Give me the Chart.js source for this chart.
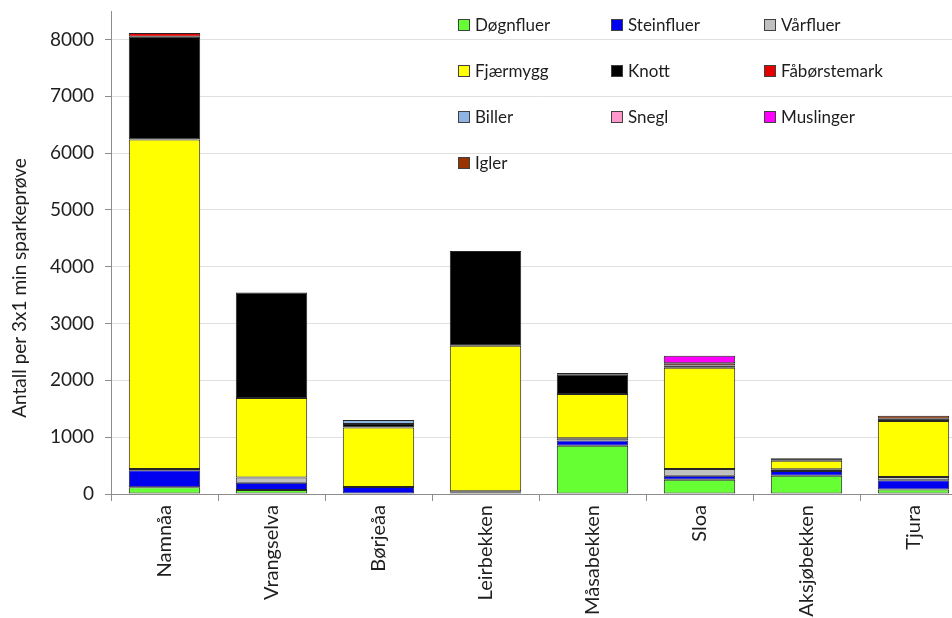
<!DOCTYPE html>
<html>
<head>
<meta charset="utf-8">
<script src="https://cdn.jsdelivr.net/npm/chart.js@4.4.1/dist/chart.umd.min.js"></script>
<style>
  html, body { margin: 0; padding: 0; background: #fff; overflow: hidden; }
  #wrap { width: 952px; height: 618px; overflow: hidden; }
</style>
</head>
<body>
<div id="wrap"><canvas id="chart" width="975" height="618"></canvas></div>
<script>
// stations
const sites = ['Namnåa', 'Vrangselva', 'Børjeåa', 'Leirbekken', 'Måsabekken', 'Sloa', 'Aksjøbekken', 'Tjura'];

// counts per 3x1 min kick sample, one array per group
const dognfluer    = [120, 70, 10, 20, 850, 250, 320, 80];
const steinfluer   = [300, 130, 115, 30, 90, 70, 85, 160];
const varfluer     = [20, 90, 0, 0, 40, 120, 30, 60];
const fjaermygg    = [5800, 1400, 1046, 2560, 780, 1780, 150, 985];
const knott        = [1805, 1856, 60, 1666, 340, 40, 45, 40];
const faborstemark = [70, 0, 0, 0, 0, 40, 0, 0];
const biller       = [0, 0, 71, 0, 30, 0, 0, 0];
const snegl        = [0, 0, 0, 0, 0, 0, 0, 0];
const muslinger    = [0, 0, 0, 0, 0, 135, 0, 0];
const igler        = [0, 0, 0, 0, 0, 0, 0, 50];

const groupNames = ['Døgnfluer', 'Steinfluer', 'Vårfluer', 'Fjærmygg', 'Knott', 'Fåbørstemark', 'Biller', 'Snegl', 'Muslinger', 'Igler'];
const groupValues = [dognfluer, steinfluer, varfluer, fjaermygg, knott, faborstemark, biller, snegl, muslinger, igler];

const yTicks = [0, 1000, 2000, 3000, 4000, 5000, 6000, 7000, 8000];
const yTitle = 'Antall per 3x1 min sparkeprøve';

const colors = ['#66ff33', '#0000f0', '#c0c0c0', '#ffff00', '#000000', '#e60000', '#8db4e2', '#ff99cc', '#ff00ff', '#993300'];
const FONT = 'Lato, "Open Sans", sans-serif';
const TEXT = '#1e1e1e';
const AXIS = '#8c8c8c';

const datasets = groupNames.map((name, i) => ({
  label: name,
  data: groupValues[i],
  backgroundColor: colors[i],
  borderColor: '#262626',
  borderWidth: 1,
  borderSkipped: false,
  barPercentage: 0.667,
  categoryPercentage: 1.0
}));

// legend in three columns + rotated y title
const extras = {
  id: 'extras',
  afterDraw(chart) {
    const ctx = chart.ctx;
    ctx.save();
    ctx.font = '17px ' + FONT;
    ctx.textBaseline = 'middle';
    chart.data.datasets.forEach((ds, i) => {
      const x = 458 + (i % 3) * 153;
      const y = 25 + Math.floor(i / 3) * 46;
      ctx.fillStyle = ds.backgroundColor;
      ctx.fillRect(x, y - 6, 12, 12);
      ctx.strokeStyle = '#404040';
      ctx.lineWidth = 1;
      ctx.strokeRect(x + 0.5, y - 5.5, 11, 11);
      ctx.fillStyle = TEXT;
      ctx.fillText(ds.label, x + 17, y + 1);
    });

    ctx.translate(20, 288);
    ctx.rotate(-Math.PI / 2);
    ctx.textAlign = 'center';
    ctx.font = '19px ' + FONT;
    ctx.fillStyle = TEXT;
    ctx.fillText(yTitle, 0, 0);
    ctx.restore();
  }
};

new Chart(document.getElementById('chart'), {
  type: 'bar',
  data: { labels: sites, datasets },
  plugins: [extras],
  options: {
    responsive: false,
    animation: false,
    layout: { padding: { top: 11, right: 8, left: 0, bottom: 0 } },
    plugins: { legend: { display: false }, tooltip: { enabled: false } },
    scales: {
      x: {
        stacked: true,
        grid: { drawOnChartArea: false, drawTicks: true, tickLength: 7, color: AXIS, offset: true },
        border: { color: AXIS },
        ticks: { minRotation: 90, maxRotation: 90, autoSkip: false, color: TEXT, font: { family: FONT, size: 20 }, padding: 4 },
        afterFit: s => { s.height = 124; s.paddingLeft = 0; s.paddingRight = 0; }
      },
      y: {
        stacked: true,
        min: 0,
        max: 8500,
        afterBuildTicks: s => { s.ticks = yTicks.map(v => ({ value: v })); },
        ticks: { color: TEXT, font: { family: FONT, size: 19 }, padding: 11, callback: v => String(v) },
        grid: { color: '#e0e0e0', tickLength: 6, tickColor: AXIS },
        border: { color: AXIS },
        afterFit: s => { s.width = 111; s.paddingTop = 0; s.paddingBottom = 0; }
      }
    }
  }
});
</script>
</body>
</html>
